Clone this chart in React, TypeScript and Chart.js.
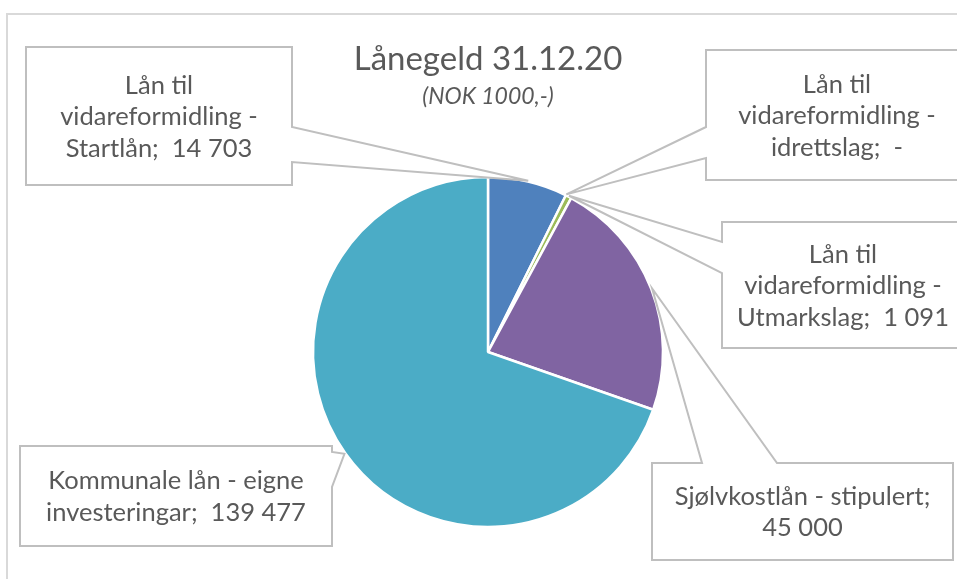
import React, { useEffect, useRef } from "react";
import { Chart, registerables } from "chart.js";

Chart.register(...registerables);

// ---- data ----
const title = "Lånegeld 31.12.20";
const subtitle = "(NOK 1000,-)";
const categories: string[][] = [
  ["Lån til", "vidareformidling -", "Startlån"],
  ["Lån til", "vidareformidling -", "idrettslag"],
  ["Lån til", "vidareformidling -", "Utmarkslag"],
  ["Sjølvkostlån - stipulert"],
  ["Kommunale lån - eigne", "investeringar"],
];
const values: number[] = [14703, 0, 1091, 45000, 139477];
const valueOnOwnLine: boolean[] = [false, false, false, true, false];
const colors: string[] = ["#4F81BD", "#C0504D", "#9BBB59", "#8064A2", "#4BACC6"];

// ---- layout of the callout boxes (page pixels) ----
type Callout = { x: number; y: number; w: number; h: number; side: "left" | "right" | "top"; b1: number; b2: number };
const callouts: Callout[] = [
  { x: 26, y: 47, w: 266, h: 138, side: "right", b1: 127, b2: 162 },
  { x: 706, y: 50, w: 262, h: 130, side: "left", b1: 127, b2: 158 },
  { x: 722, y: 222, w: 242, h: 126, side: "left", b1: 242, b2: 273 },
  { x: 652, y: 463, w: 301, h: 97, side: "top", b1: 702, b2: 777 },
  { x: 20, y: 446, w: 312, h: 100, side: "right", b1: 452, b2: 487 },
];

const FONT = "Lato, 'Open Sans', sans-serif";
const TEXT = "#595959";

function fmt(v: number): string {
  if (v === 0) return "-";
  return String(v).replace(/\B(?=(\d{3})+(?!\d))/g, " ");
}

function labelLines(i: number): string[] {
  const lines = categories[i].slice();
  const last = lines.length - 1;
  if (valueOnOwnLine[i]) {
    lines[last] = lines[last] + ";";
    lines.push(fmt(values[i]));
  } else {
    lines[last] = lines[last] + ";  " + fmt(values[i]);
  }
  return lines;
}

const decorPlugin = {
  id: "decor",
  beforeDraw(chart: any) {
    const ctx = chart.ctx as CanvasRenderingContext2D;
    ctx.save();
    ctx.fillStyle = "#ffffff";
    ctx.fillRect(0, 0, chart.width, chart.height);
    ctx.strokeStyle = "#D9D9D9";
    ctx.lineWidth = 2;
    ctx.strokeRect(7, 14, chart.width + 20, chart.height + 20);
    // title
    ctx.fillStyle = TEXT;
    ctx.textAlign = "center";
    ctx.textBaseline = "alphabetic";
    const cx = (chart.chartArea.left + chart.chartArea.right) / 2;
    ctx.font = `33px ${FONT}`;
    ctx.fillText(title, cx, 70);
    ctx.font = `italic 23px ${FONT}`;
    ctx.fillText(subtitle, cx, 104);
    ctx.restore();
  },
  afterDraw(chart: any) {
    const ctx = chart.ctx as CanvasRenderingContext2D;
    const meta = chart.getDatasetMeta(0);
    ctx.save();
    meta.data.forEach((arc: any, i: number) => {
      const c = callouts[i];
      if (!c) return;
      const mid = (arc.startAngle + arc.endAngle) / 2;
      const r = arc.outerRadius + 1;
      const ax = arc.x + Math.cos(mid) * r;
      const ay = arc.y + Math.sin(mid) * r;
      const { x, y, w, h } = c;
      ctx.beginPath();
      if (c.side === "right") {
        ctx.moveTo(x, y);
        ctx.lineTo(x + w, y);
        ctx.lineTo(x + w, c.b1);
        ctx.lineTo(ax, ay);
        ctx.lineTo(x + w, c.b2);
        ctx.lineTo(x + w, y + h);
        ctx.lineTo(x, y + h);
      } else if (c.side === "left") {
        ctx.moveTo(x, y);
        ctx.lineTo(x + w, y);
        ctx.lineTo(x + w, y + h);
        ctx.lineTo(x, y + h);
        ctx.lineTo(x, c.b2);
        ctx.lineTo(ax, ay);
        ctx.lineTo(x, c.b1);
      } else {
        ctx.moveTo(x, y);
        ctx.lineTo(c.b1, y);
        ctx.lineTo(ax, ay);
        ctx.lineTo(c.b2, y);
        ctx.lineTo(x + w, y);
        ctx.lineTo(x + w, y + h);
        ctx.lineTo(x, y + h);
      }
      ctx.closePath();
      ctx.fillStyle = "#ffffff";
      ctx.fill();
      ctx.strokeStyle = "#BFBFBF";
      ctx.lineWidth = 2;
      ctx.lineJoin = "miter";
      ctx.stroke();

      const lines = labelLines(i);
      const lh = 31.5;
      const cy = y + h / 2;
      ctx.fillStyle = TEXT;
      ctx.font = `25.5px ${FONT}`;
      ctx.textAlign = "center";
      ctx.textBaseline = "alphabetic";
      lines.forEach((t, k) => {
        const ly = cy + (k - (lines.length - 1) / 2) * lh + 9;
        ctx.fillText(t, x + w / 2, ly);
      });
    });
    ctx.restore();
  },
};

export default function App() {
  const ref = useRef<HTMLCanvasElement | null>(null);
  useEffect(() => {
    if (!ref.current) return;
    const chart = new Chart(ref.current, {
      type: "pie",
      data: {
        labels: categories,
        datasets: [
          {
            data: values,
            backgroundColor: colors,
            borderColor: "#ffffff",
            borderWidth: 2.5,
          },
        ],
      },
      options: {
        responsive: false,
        animation: false,
        radius: 175,
        layout: { padding: { left: 313, right: 294, top: 177, bottom: 52 } },
        plugins: {
          legend: { display: false },
          tooltip: { enabled: false },
          title: { display: false },
        },
      } as any,
      plugins: [decorPlugin],
    });
    return () => chart.destroy();
  }, []);
  return (
    <div style={{ position: "fixed", left: 0, top: 0, width: 957, height: 579 }}>
      <canvas ref={ref} width={957} height={579} style={{ display: "block" }} />
    </div>
  );
}
